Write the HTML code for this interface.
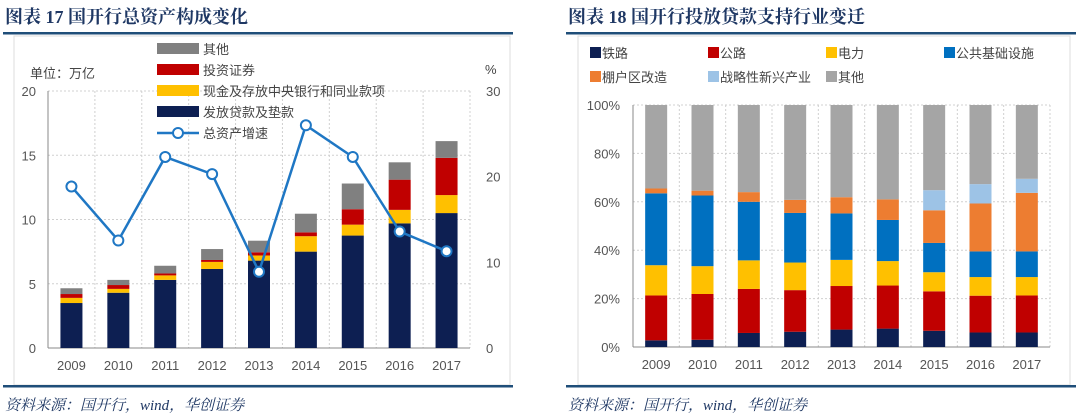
<!DOCTYPE html>
<html><head><meta charset="utf-8"><style>
body{margin:0;background:#fff;}
svg{display:block;font-family:"Liberation Sans","Noto Sans CJK SC",sans-serif;}
.t{font-family:"Liberation Serif","Noto Serif CJK SC",serif;font-weight:bold;font-size:18px;fill:#1f3864;}
.src{font-family:"Liberation Serif","Noto Serif CJK SC",serif;font-style:italic;font-size:15px;fill:#1f3864;}
.tk{font-size:13px;fill:#555;}
.lg{font-size:13px;fill:#444;}
</style></head><body>
<svg id="s" width="1080" height="417" viewBox="0 0 1080 417">
<text x="5" y="23" class="t">图表 17 国开行总资产构成变化</text>
<text x="568" y="23" class="t">图表 18 国开行投放贷款支持行业变迁</text>
<rect x="3" y="32" width="510" height="2.5" fill="#1f4e79"/>
<rect x="566" y="32" width="510" height="2.5" fill="#1f4e79"/>
<rect x="14" y="36" width="496" height="349" fill="none" stroke="#ddd"/>
<rect x="578" y="36" width="492" height="349" fill="none" stroke="#ddd"/>
<rect x="3" y="385" width="510" height="2.5" fill="#1f4e79"/>
<rect x="566" y="385" width="510" height="2.5" fill="#1f4e79"/>
<text x="5" y="410" class="src">资料来源：国开行，wind，华创证券</text>
<text x="568" y="410" class="src">资料来源：国开行，wind，华创证券</text>
<g id="L"></g><g id="R"></g>
</svg>
<script>
const years=['2009','2010','2011','2012','2013','2014','2015','2016','2017'];
const loans=[3.5,4.3,5.3,6.15,6.8,7.5,8.75,9.7,10.5];
const cash=[0.4,0.3,0.35,0.55,0.4,1.2,0.85,1.05,1.4];
const invest=[0.3,0.3,0.15,0.15,0.25,0.3,1.2,2.35,2.9];
const otherAssets=[0.45,0.4,0.6,0.85,0.9,1.45,2.0,1.35,1.3];
const growth=[18.85,12.55,22.3,20.3,8.9,26.0,22.3,13.6,11.3];
const leftTicks=[0,5,10,15,20];
const rightTicks=[0,10,20,30];
const rail=[2.75,3,5.8,6.3,7.2,7.6,6.7,6,6];
const road=[18.55,18.9,18.2,17.2,18,17.8,16.3,15.2,15.3];
const power=[12.5,11.5,11.8,11.4,10.8,10.1,7.9,7.7,7.6];
const infra=[29.7,29.2,24.2,20.5,19.2,17,12.1,10.6,10.6];
const shanty=[2,2,4,5.4,6.7,8.5,13.5,19.8,24.2];
const strategic=[0,0,0,0,0,0,8.3,8,5.8];
const pctTicks=[0,20,40,60,80,100];

const NS='http://www.w3.org/2000/svg';
function mk(p,tag,a,txt){const e=document.createElementNS(NS,tag);for(const k in a)e.setAttribute(k,a[k]);if(txt!==undefined)e.textContent=txt;p.appendChild(e);return e;}

// LEFT
const L=document.getElementById('L');
const lx0=48,lx1=470,ly0=348,ly1=91;
const lsx=i=>lx0+(lx1-lx0)/9*(i+0.5);
const lsy=v=>ly0-(ly0-ly1)*v/20;
const rsy=v=>ly0-(ly0-ly1)*v/30;
leftTicks.forEach(t=>{
  if(t>0){const g=mk(L,'line',{x1:lx0,x2:lx1,y1:lsy(t),y2:lsy(t),stroke:'#d0d0d0','stroke-dasharray':'2,2'});
  }
  const e=mk(L,'text',{x:36,y:lsy(t)+5,'text-anchor':'end',class:'tk'},t);
  
});
rightTicks.forEach(t=>{
  const e=mk(L,'text',{x:486,y:rsy(t)+5,class:'tk'},t);
  
});
for(let i=1;i<=9;i++){const x=lx0+(lx1-lx0)/9*i;
  const g=mk(L,'line',{x1:x,x2:x,y1:ly1,y2:ly0,stroke:'#d0d0d0','stroke-dasharray':'2,2'});
  }
const la=mk(L,'line',{x1:lx0,x2:lx0,y1:ly1,y2:ly0,stroke:'#888'});

const lb=mk(L,'line',{x1:lx0,x2:lx1,y1:ly0,y2:ly0,stroke:'#888'});

const lser=[[loans,'#0d1f52','loans'],[cash,'#ffc000','cash'],[invest,'#c00000','investment'],[otherAssets,'#808080','other']];
years.forEach((y,i)=>{
  let c=0;
  lser.forEach(([arr,col,nm])=>{
    const r=mk(L,'rect',{x:lsx(i)-11,y:lsy(c+arr[i]),width:22,height:lsy(c)-lsy(c+arr[i]),fill:col});
    
    c+=arr[i];
  });
  const t=mk(L,'text',{x:lsx(i),y:370,'text-anchor':'middle',class:'tk'},y);
  
});
const pl=mk(L,'polyline',{points:growth.map((v,i)=>lsx(i)+','+rsy(v)).join(' '),fill:'none',stroke:'#1f77c4','stroke-width':2.5});

growth.forEach((v,i)=>{const c=mk(L,'circle',{cx:lsx(i),cy:rsy(v),r:5,fill:'#fff',stroke:'#1f77c4','stroke-width':2});
  });
const u=mk(L,'text',{x:30,y:78,class:'lg'},'单位：万亿');
const pc=mk(L,'text',{x:485,y:74,class:'lg'},'%');
[['#808080','其他',49],['#c00000','投资证券',70],['#ffc000','现金及存放中央银行和同业款项',91],['#0d1f52','发放贷款及垫款',112]].forEach(([c,n,y])=>{
  const r=mk(L,'rect',{x:157,y:y-6,width:42,height:11,fill:c});
  const t=mk(L,'text',{x:203,y:y+5,class:'lg'},n);
});
const ll=mk(L,'line',{x1:157,x2:199,y1:133,y2:133,stroke:'#1f77c4','stroke-width':2.5});
const lc=mk(L,'circle',{cx:178,cy:133,r:5,fill:'#fff',stroke:'#1f77c4','stroke-width':2});
const lt=mk(L,'text',{x:203,y:138,class:'lg'},'总资产增速');

// RIGHT
const R=document.getElementById('R');
const rx0=633,rx1=1050,ry0=347,ry1=105;
const bx=i=>rx0+(rx1-rx0)/9*(i+0.5);
const by=v=>ry0-(ry0-ry1)*v/100;
pctTicks.forEach(t=>{
  if(t>0){const g=mk(R,'line',{x1:rx0,x2:rx1,y1:by(t),y2:by(t),stroke:'#d0d0d0','stroke-dasharray':'2,2'});
  }
  const e=mk(R,'text',{x:620,y:by(t)+5,'text-anchor':'end',class:'tk'},t+'%');
  
});
for(let i=1;i<=9;i++){const x=rx0+(rx1-rx0)/9*i;
  const g=mk(R,'line',{x1:x,x2:x,y1:ry1,y2:ry0,stroke:'#d0d0d0','stroke-dasharray':'2,2'});
  }
const ra=mk(R,'line',{x1:rx0,x2:rx0,y1:ry1,y2:ry0,stroke:'#888'});
const rb=mk(R,'line',{x1:rx0,x2:rx1,y1:ry0,y2:ry0,stroke:'#888'});
const rser=[[rail,'#0d1f52','rail'],[road,'#c00000','road'],[power,'#ffc000','power'],[infra,'#0070c0','infra'],[shanty,'#ed7d31','shanty'],[strategic,'#9dc3e6','strategic']];
years.forEach((y,i)=>{
  let c=0;
  rser.forEach(([arr,col,nm])=>{
    const r=mk(R,'rect',{x:bx(i)-11,y:by(c+arr[i]),width:22,height:by(c)-by(c+arr[i]),fill:col});
    
    c+=arr[i];
  });
  const r=mk(R,'rect',{x:bx(i)-11,y:by(100),width:22,height:by(c)-by(100),fill:'#a5a5a5'});
  
  const t=mk(R,'text',{x:bx(i),y:369,'text-anchor':'middle',class:'tk'},y);
  
});
[['#0d1f52','铁路',590,53],['#c00000','公路',708,53],['#ffc000','电力',826,53],['#0070c0','公共基础设施',944,53],
 ['#ed7d31','棚户区改造',590,77],['#9dc3e6','战略性新兴产业',708,77],['#a5a5a5','其他',826,77]].forEach(([c,n,x,y])=>{
  const r=mk(R,'rect',{x:x,y:y-6,width:11,height:11,fill:c});
  const t=mk(R,'text',{x:x+12,y:y+5,class:'lg'},n);
});
</script>
</body></html>
